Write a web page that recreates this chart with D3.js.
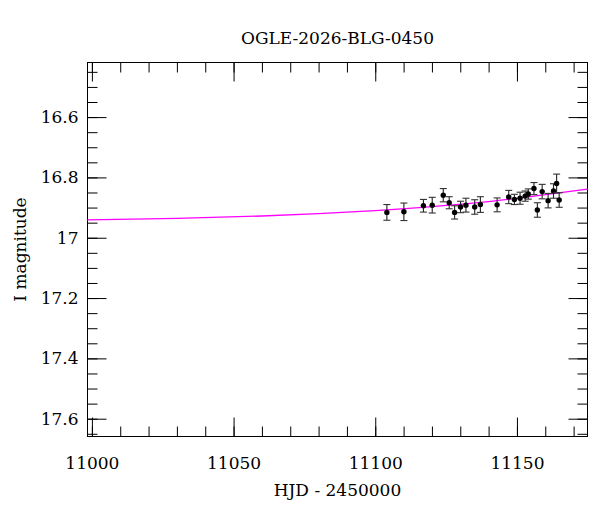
<!DOCTYPE html>
<html>
<head>
<meta charset="utf-8">
<script src="https://cdn.jsdelivr.net/npm/d3@7"></script>
<style>
  body { margin: 0; background: #fff; }
  text { font-family: "DejaVu Serif", serif; fill: #000; }
</style>
</head>
<body>
<svg id="chart" width="600" height="512"></svg>
<script>
var hjd = [11104.1, 11110.1, 11117.0, 11120.1, 11124.0, 11126.1, 11128.0, 11130.1,
           11132.0, 11135.1, 11137.1, 11143.0, 11147.1, 11149.1, 11151.1, 11152.9,
           11154.0, 11156.0, 11157.2, 11158.9, 11161.0, 11162.9, 11164.0, 11164.9];
var mag = [16.916, 16.914, 16.894, 16.892, 16.859, 16.884, 16.916, 16.898,
           16.892, 16.898, 16.890, 16.891, 16.865, 16.873, 16.869, 16.862,
           16.855, 16.837, 16.908, 16.847, 16.877, 16.845, 16.820, 16.875];
var magErr = [0.026, 0.029, 0.021, 0.026, 0.022, 0.020, 0.022, 0.019,
              0.023, 0.024, 0.026, 0.023, 0.022, 0.017, 0.020, 0.017,
              0.017, 0.020, 0.024, 0.024, 0.024, 0.024, 0.031, 0.024];

// model curve (magenta)
var modelHjd = [10998.4, 11030, 11060, 11080, 11100, 11120, 11137, 11156, 11175];
var modelMag = [16.941, 16.936, 16.928, 16.920, 16.910, 16.897, 16.883, 16.862, 16.839];

var xMajor = [11000, 11050, 11100, 11150];
var yMajor = [16.6, 16.8, 17, 17.2, 17.4, 17.6];
var xMinor = d3.range(11000, 11175, 10);
var yMinor = d3.range(16.45, 17.66, 0.05);

var svg = d3.select("#chart"),
    mLeft = 87.5, mTop = 62.5,
    width = 500, height = 374;

var x = d3.scaleLinear().domain([10998.45, 11174.9]).range([mLeft, mLeft + width]);
var y = d3.scaleLinear().domain([16.419, 17.659]).range([mTop, mTop + height]);

// title + axis labels
svg.append("text")
    .attr("x", mLeft + width / 2).attr("y", 44)
    .attr("text-anchor", "middle").attr("font-size", "17px")
    .text("OGLE-2026-BLG-0450");

svg.append("text")
    .attr("x", mLeft + width / 2).attr("y", 496)
    .attr("text-anchor", "middle").attr("font-size", "17px")
    .text("HJD - 2450000");

svg.append("text")
    .attr("transform", "translate(26," + (mTop + height / 2) + ") rotate(-90)")
    .attr("text-anchor", "middle").attr("font-size", "17px")
    .text("I magnitude");

function style(g) {
    g.select(".domain").remove();
    g.selectAll("line").attr("stroke", "#000");
    g.selectAll("text").attr("font-family", "DejaVu Serif, serif").attr("font-size", "17px").attr("fill", "#000");
}

// bottom
svg.append("g").attr("transform", "translate(0," + (mTop + height) + ")")
    .call(d3.axisBottom(x).tickValues(xMinor).tickSizeInner(-10).tickSizeOuter(0).tickFormat(""))
    .call(style);
svg.append("g").attr("transform", "translate(0," + (mTop + height) + ")")
    .call(d3.axisBottom(x).tickValues(xMajor).tickSizeInner(-19).tickSizeOuter(0).tickPadding(20).tickFormat(d3.format("d")))
    .call(style);
// top
svg.append("g").attr("transform", "translate(0," + mTop + ")")
    .call(d3.axisTop(x).tickValues(xMinor).tickSizeInner(-10).tickSizeOuter(0).tickFormat(""))
    .call(style);
svg.append("g").attr("transform", "translate(0," + mTop + ")")
    .call(d3.axisTop(x).tickValues(xMajor).tickSizeInner(-19).tickSizeOuter(0).tickFormat(""))
    .call(style);
// left
svg.append("g").attr("transform", "translate(" + mLeft + ",0)")
    .call(d3.axisLeft(y).tickValues(yMinor).tickSizeInner(-10).tickSizeOuter(0).tickFormat(""))
    .call(style);
svg.append("g").attr("transform", "translate(" + mLeft + ",0)")
    .call(d3.axisLeft(y).tickValues(yMajor).tickSizeInner(-19).tickSizeOuter(0).tickPadding(9).tickFormat(d3.format("~g")))
    .call(style);
// right
svg.append("g").attr("transform", "translate(" + (mLeft + width) + ",0)")
    .call(d3.axisRight(y).tickValues(yMinor).tickSizeInner(-10).tickSizeOuter(0).tickFormat(""))
    .call(style);
svg.append("g").attr("transform", "translate(" + (mLeft + width) + ",0)")
    .call(d3.axisRight(y).tickValues(yMajor).tickSizeInner(-19).tickSizeOuter(0).tickFormat(""))
    .call(style);

// frame
svg.append("rect")
    .attr("x", mLeft).attr("y", mTop).attr("width", width).attr("height", height)
    .attr("fill", "none").attr("stroke", "#000").attr("stroke-width", 1);

// model
var model = modelHjd.map(function (d, i) { return [d, modelMag[i]]; });
svg.append("path")
    .datum(model)
    .attr("fill", "none")
    .attr("stroke", "#ff00ff")
    .attr("stroke-width", 1.3)
    .attr("d", d3.line()
        .x(function (d) { return x(d[0]); })
        .y(function (d) { return y(d[1]); })
        .curve(d3.curveMonotoneX));

// data with error bars
var obs = hjd.map(function (d, i) { return { t: d, m: mag[i], e: magErr[i] }; });
var pts = svg.append("g").selectAll("g").data(obs).enter().append("g");

pts.append("line")
    .attr("x1", function (d) { return x(d.t); }).attr("x2", function (d) { return x(d.t); })
    .attr("y1", function (d) { return y(d.m - d.e); }).attr("y2", function (d) { return y(d.m + d.e); })
    .attr("stroke", "#222").attr("stroke-width", 1.1);
pts.append("line")
    .attr("x1", function (d) { return x(d.t) - 3.5; }).attr("x2", function (d) { return x(d.t) + 3.5; })
    .attr("y1", function (d) { return y(d.m - d.e); }).attr("y2", function (d) { return y(d.m - d.e); })
    .attr("stroke", "#333").attr("stroke-width", 1.1);
pts.append("line")
    .attr("x1", function (d) { return x(d.t) - 3.5; }).attr("x2", function (d) { return x(d.t) + 3.5; })
    .attr("y1", function (d) { return y(d.m + d.e); }).attr("y2", function (d) { return y(d.m + d.e); })
    .attr("stroke", "#333").attr("stroke-width", 1.1);
pts.append("circle")
    .attr("cx", function (d) { return x(d.t); })
    .attr("cy", function (d) { return y(d.m); })
    .attr("r", 2.7)
    .attr("fill", "#000");
</script>
</body>
</html>
